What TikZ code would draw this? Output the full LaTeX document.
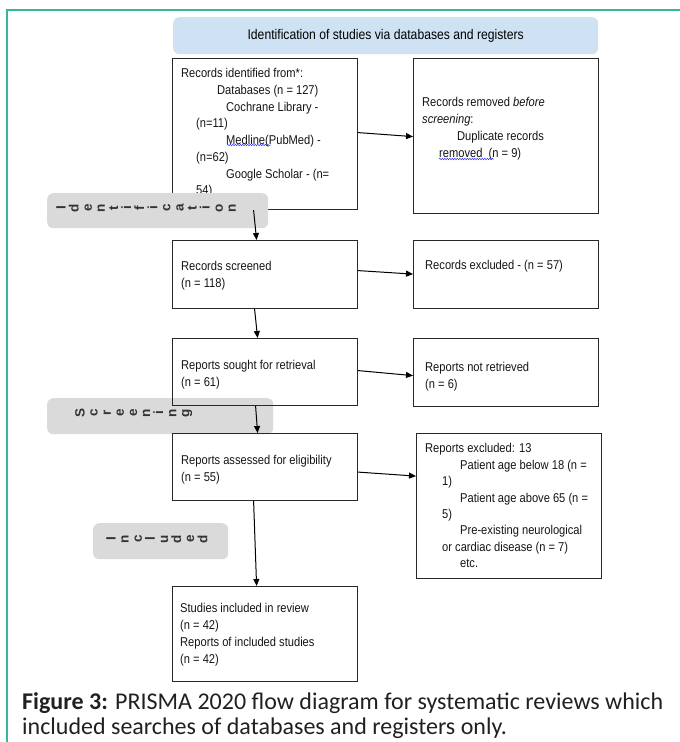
\documentclass[tikz,border=0pt]{standalone}
\usepackage{fontspec}
\setmainfont{Liberation Sans}
\newfontfamily\narrowf[FakeStretch=0.87]{Liberation Sans}
\newfontfamily\capf{Carlito}
\usetikzlibrary{arrows.meta,decorations.pathmorphing}
\definecolor{frameteal}{RGB}{52,184,152}
\definecolor{titleblue}{RGB}{207,226,243}
\definecolor{labelgrey}{RGB}{218,218,218}
\definecolor{captxt}{RGB}{35,31,32}
\definecolor{boxline}{RGB}{40,40,40}
\begin{document}
\begin{tikzpicture}[x=1pt,y=-1pt,
  box/.style={draw=boxline,line width=1.2pt,anchor=north west,inner sep=0},
  txt/.style={anchor=north west,inner sep=0,align=left,text=black!92,font=\narrowf\fontsize{12.8}{#1}\selectfont},
  txt/.default=17,
  greylab/.style={fill=labelgrey,rounded corners=6pt,anchor=north west,inner sep=0},
  letter/.style={rotate=90,anchor=mid,inner sep=0,text=black!80,font=\bfseries\fontsize{13.5}{13.5}\selectfont},
  arr/.style={-{Triangle[length=7pt,width=6pt]},line width=1pt,black},
  wavy/.style={draw=blue!80,line width=0.5pt,decorate,decoration={snake,amplitude=0.7pt,segment length=2.5pt}}
]
\useasboundingbox (0,0) rectangle (680,742);
% frame
\draw[frameteal,line width=2pt] (6.5,742) -- (6.5,9.5) -- (680,9.5);
% title bar
\node[fill=titleblue,rounded corners=6pt,anchor=north west,inner sep=0,minimum width=425pt,minimum height=37pt] (title) at (173,17) {};
\node[font=\narrowf\fontsize{14}{16}\selectfont,inner sep=0] (titletxt) at (title.center) {Identification of studies via databases and registers};

% screening label (behind boxes)
\node[greylab,minimum width=226pt,minimum height=36pt] (gl2) at (47,398) {};
\foreach \c [count=\i from 0] in {S,c,r,e,e,n,i,n,g}
  \node[letter] (ls\i) at (82+13.1*\i,413) {\c};

% left boxes
\node[box,minimum width=185pt,minimum height=151pt] (b1) at (172,58) {};
\node[box,minimum width=185pt,minimum height=68pt] (b2) at (172,240) {};
\node[box,minimum width=185pt,minimum height=67pt] (b3) at (172,338) {};
\node[box,minimum width=185pt,minimum height=67pt] (b4) at (172,433) {};
\node[box,minimum width=185pt,minimum height=95pt] (b5) at (172,586) {};
% right boxes
\node[box,minimum width=185pt,minimum height=155pt] (r1) at (413,58) {};
\node[box,minimum width=185pt,minimum height=68pt] (r2) at (413,240) {};
\node[box,minimum width=185pt,minimum height=68pt] (r3) at (413,338) {};
\node[box,minimum width=185pt,minimum height=145pt] (r4) at (416,433) {};

% texts
\node[txt=16.7] (t1) at (181,68.4) {Records identified from*:\\
\hspace*{36pt}Databases (n = 127)\\
\hspace*{45pt}Cochrane Library -\\
\hspace*{15pt}(n=11)\\
\hspace*{45pt}Medline(PubMed) -\\
\hspace*{15pt}(n=62)\\
\hspace*{45pt}Google Scholar - (n=\\
\hspace*{15pt}54)};
\node[txt] (tr1) at (422,97.4) {Records removed \textit{before}\\
\textit{screening}:\\
\hspace*{35pt}Duplicate records\\
\hspace*{17pt}removed\ \ (n = 9)};
\draw[wavy] (227,145) -- (271,145);
\draw[wavy] (439,159) -- (494,159);
\node[txt] (t2) at (181,261.4) {Records screened\\(n = 118)};
\node[txt] (tr2) at (425,260.4) {Records excluded - (n = 57)};
\node[txt] (t3) at (181,360) {Reports sought for retrieval\\(n = 61)};
\node[txt] (tr3) at (425,362.4) {Reports not retrieved\\(n = 6)};
\node[txt=16.5] (t4) at (181,455.4) {Reports assessed for eligibility\\(n = 55)};
\node[txt=16.4] (tr4) at (425,443.4) {Reports excluded: 13\\
\hspace*{35pt}Patient age below 18 (n =\\
\hspace*{17pt}1)\\
\hspace*{35pt}Patient age above 65 (n =\\
\hspace*{17pt}5)\\
\hspace*{35pt}Pre-existing neurological\\
\hspace*{17pt}or cardiac disease (n = 7)\\
\hspace*{35pt}etc.};
\node[txt] (t5) at (180,603.4) {Studies included in review\\(n = 42)\\Reports of included studies\\(n = 42)};

% identification label (over box 1)
\node[greylab,minimum width=221pt,minimum height=35pt] (gl1) at (47,193) {};
\foreach \c [count=\i from 0] in {I,d,e,n,t,i,f,i,c,a,t,i,o,n}
  \node[letter] (li\i) at (63+13.1*\i,208) {\c};
% included label
\node[greylab,minimum width=135pt,minimum height=36pt] (gl3) at (93,523) {};
\foreach \c [count=\i from 0] in {I,n,c,l,u,d,e,d}
  \node[letter] (ln\i) at (113+13.1*\i,539) {\c};

% arrows
\draw[arr] ([xshift=-11.5pt]b1.south) -- ([xshift=-8.5pt]b2.north);
\draw[arr] ([xshift=-10.5pt]b2.south) -- ([xshift=-7.5pt]b3.north);
\draw[arr] ([xshift=-9.5pt]b3.south) -- ([xshift=-7.5pt]b4.north);
\draw[arr] ([xshift=-11.5pt]b4.south) -- ([xshift=-8.5pt]b5.north);
\draw[arr] ([yshift=1.5pt]b1.east) -- ([yshift=-0.5pt]r1.west);
\draw[arr] ([yshift=4pt]b2.east) -- ([yshift=0.5pt]r2.west);
\draw[arr] ([yshift=1.5pt]b3.east) -- ([yshift=-3pt]r3.west);
\draw[arr] ([yshift=-5pt]b4.east) -- ([yshift=30pt]r4.west);

% caption
\node[anchor=base west,inner sep=0,font=\capf\fontsize{24}{25}\selectfont,text=captxt] (cap1) at (22,709) {\textbf{Figure 3:} PRISMA 2020 flow diagram for systematic reviews which};
\node[anchor=base west,inner sep=0,font=\capf\fontsize{24}{25}\selectfont,text=captxt] (cap2) at (22,734) {included searches of databases and registers only.};
\end{tikzpicture}
\end{document}
